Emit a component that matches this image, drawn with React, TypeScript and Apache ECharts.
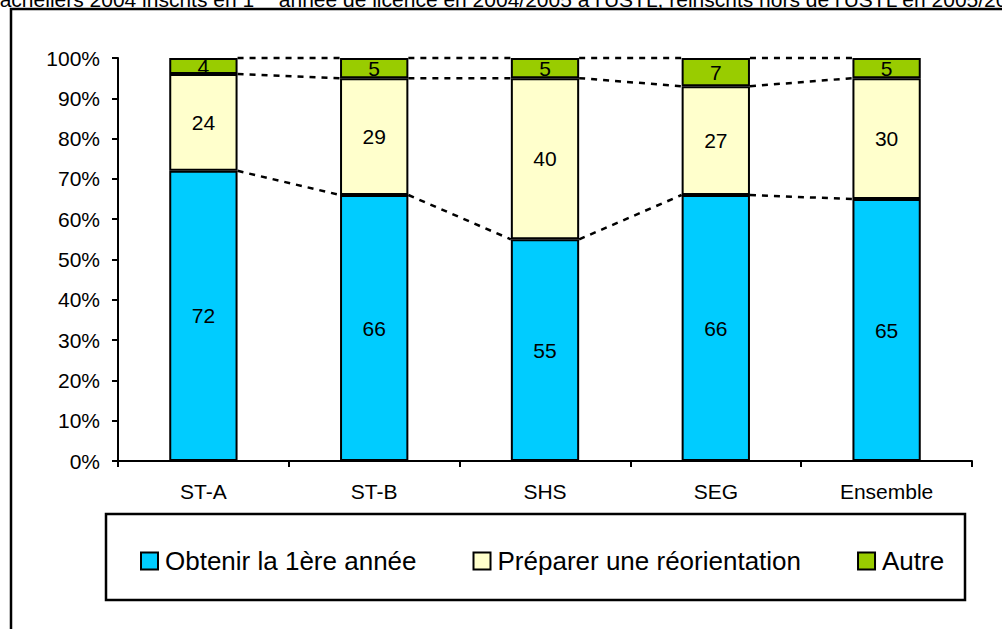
import React, { useEffect, useRef } from "react";
import * as echarts from "echarts";

const categories = ["ST-A", "ST-B", "SHS", "SEG", "Ensemble"];
const obtenir = [72, 66, 55, 66, 65];
const preparer = [24, 29, 40, 27, 30];
const autre = [4, 5, 5, 7, 5];
const seriesNames = ["Obtenir la 1ère année", "Préparer une réorientation", "Autre"];
const colors = ["#00CCFF", "#FFFFCC", "#99CC00"];

const FONT = '"Liberation Sans", Arial, sans-serif';

export default function App() {
  const ref = useRef<HTMLDivElement>(null);
  useEffect(() => {
    if (!ref.current) return;
    const chart = echarts.init(ref.current, null, { renderer: "svg" });

    const level1 = obtenir.map((v) => v);
    const level2 = obtenir.map((v, i) => v + preparer[i]);
    const level3 = obtenir.map((v, i) => v + preparer[i] + autre[i]);
    const connectors: number[][] = [];
    [level1, level2, level3].forEach((lv) => {
      for (let i = 0; i < lv.length - 1; i++) connectors.push([i, lv[i], lv[i + 1]]);
    });

    const barSeries = [obtenir, preparer, autre].map((data, k) => ({
      name: seriesNames[k],
      type: "bar",
      stack: "total",
      barWidth: "40%",
      data,
      itemStyle: { color: colors[k], borderColor: "#000", borderWidth: 2 },
      label: {
        show: true,
        position: "inside",
        color: "#000",
        fontSize: 21,
        fontFamily: FONT,
      },
    }));

    chart.setOption({
      animation: false,
      backgroundColor: "#fff",
      textStyle: { fontFamily: FONT },
      grid: { left: 118, right: 30, top: 58, bottom: 168 },
      xAxis: {
        type: "category",
        data: categories,
        axisLine: { lineStyle: { color: "#000", width: 2 } },
        axisTick: { show: true, length: 6, lineStyle: { color: "#000", width: 2 } },
        axisLabel: { color: "#000", fontSize: 21, fontFamily: FONT, margin: 20 },
      },
      yAxis: {
        type: "value",
        min: 0,
        max: 100,
        interval: 10,
        axisLine: { show: true, lineStyle: { color: "#000", width: 2 } },
        axisTick: { show: true, length: 6, lineStyle: { color: "#000", width: 2 } },
        axisLabel: { color: "#000", fontSize: 21, fontFamily: FONT, margin: 18, formatter: "{value}%" },
        splitLine: { show: false },
      },
      legend: {
        data: seriesNames,
        left: 135,
        top: 543,
        itemWidth: 17,
        itemHeight: 17,
        itemGap: 56,
        icon: "rect",
        textStyle: { color: "#000", fontSize: 26, fontFamily: FONT, lineHeight: 26, padding: [0, 0, 0, 2] },
        selectedMode: false,
      },
      graphic: [
        {
          type: "rect",
          shape: { x: 11, y: 9, width: 1100, height: 700 },
          style: { fill: "none", stroke: "#000", lineWidth: 2.5 },
          silent: true,
        },
        {
          type: "rect",
          shape: { x: 106, y: 514, width: 859, height: 86 },
          style: { fill: "none", stroke: "#000", lineWidth: 2.5 },
          silent: true,
        },
        {
          type: "text",
          x: -12,
          y: -1,
          style: {
            text: "{n|bacheliers 2004 inscrits en 1}{s|ère}{n| année de licence en 2004/2005 à l'USTL, réinscrits hors de l'USTL en 2005/2006}",
            verticalAlign: "middle",
            rich: {
              n: { fontSize: 21, fontFamily: FONT, fill: "#000" },
              s: { fontSize: 13, fontFamily: FONT, fill: "#000", verticalAlign: "top" },
            },
          },
          silent: true,
        },
      ],
      series: [
        ...barSeries,
        {
          type: "custom",
          name: "connectors",
          z: 5,
          silent: true,
          data: connectors,
          renderItem: (params: any, api: any) => {
            const i = api.value(0);
            const p1 = api.coord([i, api.value(1)]);
            const p2 = api.coord([i + 1, api.value(2)]);
            const half = (api.size([1, 0])[0] * 0.4) / 2;
            return {
              type: "line",
              shape: { x1: p1[0] + half, y1: p1[1], x2: p2[0] - half, y2: p2[1] },
              style: { stroke: "#000", lineWidth: 2.5, lineDash: [6, 6], fill: "none" },
            };
          },
        },
      ],
    });
    return () => chart.dispose();
  }, []);
  return <div ref={ref} style={{ position: "fixed", left: 0, top: 0, width: 1002, height: 629 }} />;
}
